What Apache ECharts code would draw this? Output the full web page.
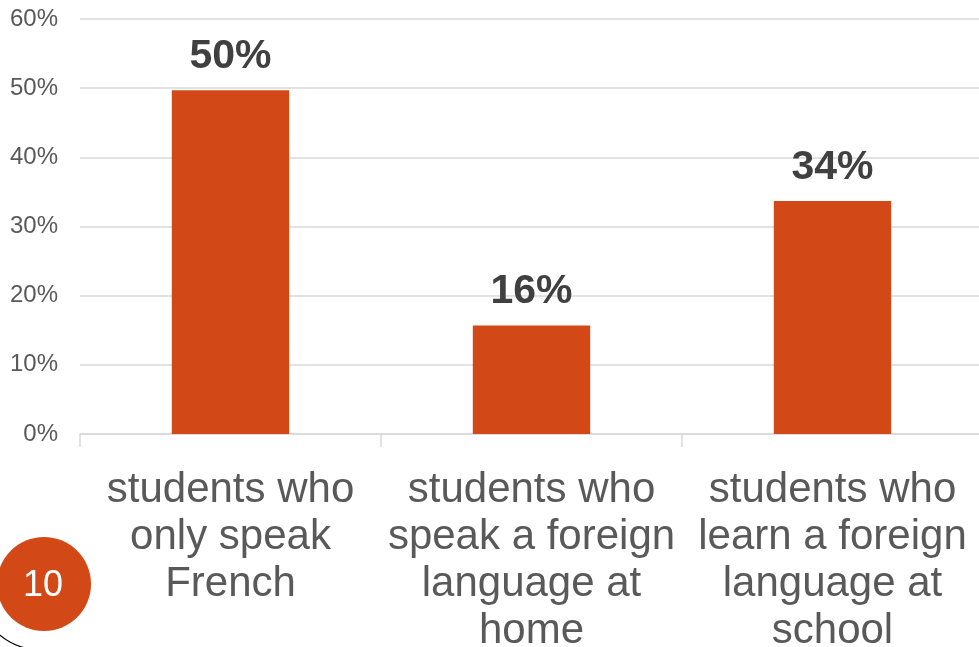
<!DOCTYPE html>
<html>
<head>
<meta charset="utf-8">
<script src="https://cdn.jsdelivr.net/npm/echarts@6/dist/echarts.min.js"></script>
<style>
html,body{margin:0;padding:0;background:#fff;}
#c{width:979px;height:647px;}
</style>
</head>
<body>
<div id="c"></div>
<script>
const categories = [
  "students who\nonly speak\nFrench",
  "students who\nspeak a foreign\nlanguage at\nhome",
  "students who\nlearn a foreign\nlanguage at\nschool"
];
const values = [49.7, 15.7, 33.7];
const yTicks = { min: 0, max: 60, interval: 10 };
const slideNumber = "10";

const chart = echarts.init(document.getElementById('c'), null, { renderer: 'canvas' });
chart.setOption({
  animation: false,
  backgroundColor: '#ffffff',
  grid: { left: 80, right: -4, top: 19, bottom: 213, containLabel: false, outerBoundsMode: 'none' },
  xAxis: {
    type: 'category',
    data: categories,
    axisLine: { show: true, lineStyle: { color: '#d9d9d9', width: 1.5 } },
    axisTick: { show: true, length: 13, alignWithLabel: false, lineStyle: { color: '#d9d9d9', width: 1.5 } },
    axisLabel: {
      interval: 0,
      margin: 33,
      color: '#595959',
      fontFamily: 'Liberation Sans, Arial, sans-serif',
      fontSize: 42,
      lineHeight: 47,
      align: 'center',
      verticalAlign: 'top'
    }
  },
  yAxis: {
    type: 'value',
    min: yTicks.min,
    max: yTicks.max,
    interval: yTicks.interval,
    axisLine: { show: false },
    axisTick: { show: false },
    splitLine: { show: true, lineStyle: { color: '#d9d9d9', width: 1.5 } },
    axisLabel: {
      formatter: v => v + '%',
      margin: 22,
      padding: [5, 0, 0, 0],
      color: '#595959',
      fontFamily: 'Liberation Sans, Arial, sans-serif',
      fontSize: 24
    }
  },
  series: [{
    type: 'bar',
    data: values,
    barWidth: '39%',
    itemStyle: { color: '#d34817' },
    label: {
      show: true,
      position: 'top',
      distance: 13,
      formatter: p => Math.round(p.value) + '%',
      color: '#404040',
      fontWeight: 'bold',
      fontFamily: 'Liberation Sans, Arial, sans-serif',
      fontSize: 41
    }
  }],
  graphic: [
    {
      type: 'arc',
      shape: { cx: 42, cy: 583, r: 67, startAngle: Math.PI * 0.5, endAngle: Math.PI * 1.2 },
      style: { stroke: '#000000', lineWidth: 1.2, fill: null },
      z: 1
    },
    {
      type: 'circle',
      shape: { cx: 44, cy: 584, r: 47 },
      style: { fill: '#d34817' },
      z: 2
    },
    {
      type: 'text',
      x: 43, y: 586,
      style: {
        text: slideNumber,
        fill: '#ffffff',
        fontSize: 36,
        fontFamily: 'Liberation Sans, Arial, sans-serif',
        align: 'center',
        verticalAlign: 'middle'
      },
      z: 3
    }
  ]
});
</script>
</body>
</html>
